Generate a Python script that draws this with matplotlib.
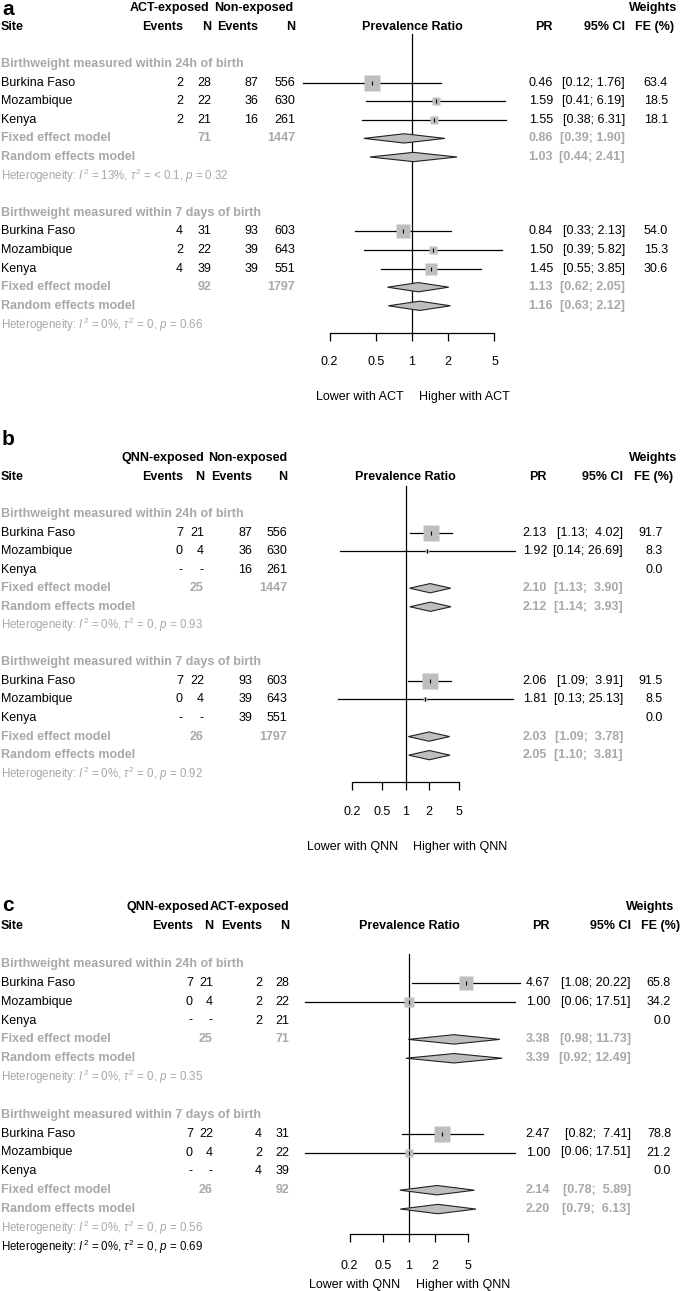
import matplotlib
matplotlib.use('Agg')
import matplotlib.pyplot as plt
from matplotlib.patches import Polygon
from matplotlib.ticker import NullLocator

plt.rcParams['font.family'] = ['Liberation Sans', 'DejaVu Sans']
plt.rcParams['mathtext.fontset'] = 'custom'
plt.rcParams['mathtext.rm'] = 'Liberation Sans'
plt.rcParams['mathtext.it'] = 'Liberation Sans:italic'
plt.rcParams['mathtext.bf'] = 'Liberation Sans:bold'

W, H = 685, 1291
GREY = '#a8a8a8'
FILL = '#bebebe'
FS = 9

sites = ['Burkina Faso', 'Mozambique', 'Kenya']
subgroups = ['Birthweight measured within 24h of birth',
             'Birthweight measured within 7 days of birth']
ticks = [0.2, 0.5, 1, 2, 5]
tick_labels = ['0.2', '0.5', '1', '2', '5']

# ---- panel a : ACT vs non-exposed
a_arms = ['ACT-exposed', 'Non-exposed']
a_ev1 = [[2, 2, 2], [4, 2, 4]]
a_n1 = [[28, 22, 21], [31, 22, 39]]
a_ev2 = [[87, 36, 16], [93, 39, 39]]
a_n2 = [[556, 630, 261], [603, 643, 551]]
a_pr = [[0.46, 1.59, 1.55], [0.84, 1.50, 1.45]]
a_lo = [[0.12, 0.41, 0.38], [0.33, 0.39, 0.55]]
a_hi = [[1.76, 6.19, 6.31], [2.13, 5.82, 3.85]]
a_w = [[63.4, 18.5, 18.1], [54.0, 15.3, 30.6]]
a_fixed = [(0.86, 0.39, 1.90), (1.13, 0.62, 2.05)]
a_random = [(1.03, 0.44, 2.41), (1.16, 0.63, 2.12)]
a_tot = [(71, 1447), (92, 1797)]
a_het = [('13%', '< 0.1', '0.32'), ('0%', '0', '0.66')]
a_dir = ['Lower with ACT', 'Higher with ACT']

# ---- panel b : QNN vs non-exposed
b_arms = ['QNN-exposed', 'Non-exposed']
b_ev1 = [[7, 0, None], [7, 0, None]]
b_n1 = [[21, 4, None], [22, 4, None]]
b_ev2 = [[87, 36, 16], [93, 39, 39]]
b_n2 = [[556, 630, 261], [603, 643, 551]]
b_pr = [[2.13, 1.92, None], [2.06, 1.81, None]]
b_lo = [[1.13, 0.14, None], [1.09, 0.13, None]]
b_hi = [[4.02, 26.69, None], [3.91, 25.13, None]]
b_w = [[91.7, 8.3, 0.0], [91.5, 8.5, 0.0]]
b_fixed = [(2.10, 1.13, 3.90), (2.03, 1.09, 3.78)]
b_random = [(2.12, 1.14, 3.93), (2.05, 1.10, 3.81)]
b_tot = [(25, 1447), (26, 1797)]
b_het = [('0%', '0', '0.93'), ('0%', '0', '0.92')]
b_dir = ['Lower with QNN', 'Higher with QNN']

# ---- panel c : QNN vs ACT
c_arms = ['QNN-exposed', 'ACT-exposed']
c_ev1 = [[7, 0, None], [7, 0, None]]
c_n1 = [[21, 4, None], [22, 4, None]]
c_ev2 = [[2, 2, 2], [4, 2, 4]]
c_n2 = [[28, 22, 21], [31, 22, 39]]
c_pr = [[4.67, 1.00, None], [2.47, 1.00, None]]
c_lo = [[1.08, 0.06, None], [0.82, 0.06, None]]
c_hi = [[20.22, 17.51, None], [7.41, 17.51, None]]
c_w = [[65.8, 34.2, 0.0], [78.8, 21.2, 0.0]]
c_fixed = [(3.38, 0.98, 11.73), (2.14, 0.78, 5.89)]
c_random = [(3.39, 0.92, 12.49), (2.20, 0.79, 6.13)]
c_tot = [(25, 71), (26, 92)]
c_het = [('0%', '0', '0.35'), ('0%', '0', '0.56')]
c_het_all = ('0%', '0', '0.69')
c_dir = ['Lower with QNN', 'Higher with QNN']

panels = [
    dict(letter='a', arms=a_arms, ev1=a_ev1, n1=a_n1, ev2=a_ev2, n2=a_n2, pr=a_pr, lo=a_lo, hi=a_hi,
         w=a_w, fixed=a_fixed, random=a_random, tot=a_tot, het=a_het, het_all=None, dirs=a_dir,
         band=(0, 420), top=64, rh=18.6, axis_px=333, letter_row=-2.95, null_px=412, ppd=118, vtop=-1.6,
         cols=dict(ev1=183, n1=211, ev2=258, n2=295, pr=553, ci=625, w=668, fe=674, wh=677, g1=170, g2=254),
         dir_px=(360, 464), dir_off=64, tick_off=28),
    dict(letter='b', arms=b_arms, ev1=b_ev1, n1=b_n1, ev2=b_ev2, n2=b_n2, pr=b_pr, lo=b_lo, hi=b_hi,
         w=b_w, fixed=b_fixed, random=b_random, tot=b_tot, het=b_het, het_all=None, dirs=b_dir,
         band=(420, 870), top=514, rh=18.55, axis_px=782, letter_row=-4.0, null_px=405.5, ppd=76.5, vtop=-1.5,
         cols=dict(ev1=183, n1=204, ev2=252, n2=287, pr=547, ci=623, w=663, fe=673, wh=677, g1=163, g2=248),
         dir_px=(353, 460), dir_off=65, tick_off=29),
    dict(letter='c', arms=c_arms, ev1=c_ev1, n1=c_n1, ev2=c_ev2, n2=c_n2, pr=c_pr, lo=c_lo, hi=c_hi,
         w=c_w, fixed=c_fixed, random=c_random, tot=c_tot, het=c_het, het_all=c_het_all, dirs=c_dir,
         band=(870, 1291), top=964, rh=18.85, axis_px=1234, letter_row=-3.1, null_px=409, ppd=85, vtop=-0.55,
         cols=dict(ev1=193, n1=213, ev2=262, n2=289, pr=550, ci=631, w=671, fe=680, wh=674, g1=168, g2=250),
         dir_px=(355, 463), dir_off=51, tick_off=30),
]

fig = plt.figure(figsize=(W / 100, H / 100), dpi=100)


def px_axes(x0, x1, y0, y1):
    return fig.add_axes([x0 / W, 1 - y1 / H, (x1 - x0) / W, (y1 - y0) / H])


def het_text(h):
    return r'Heterogeneity: $\mathit{I}^2$ = %s, $\tau^2$ = %s, $\mathit{p}$ = %s' % h


def ci_text(lo, hi, width):
    return '[%.2f; %s]' % (lo, ('%.2f' % hi).rjust(width))


for P in panels:
    y0, y1 = P['band']
    rh = P['rh']
    ylim = ((y1 - P['top']) / rh, (y0 - P['top']) / rh)
    axis_row = (P['axis_px'] - P['top']) / rh
    c = P['cols']

    t = px_axes(0, W, y0, y1)
    t.set_xlim(0, W)
    t.set_ylim(*ylim)
    t.axis('off')

    fx0, fx1 = 285, 535
    f = px_axes(fx0, fx1, y0, y1)
    f.set_xscale('log')
    f.set_xlim(10 ** ((fx0 - P['null_px']) / P['ppd']), 10 ** ((fx1 - P['null_px']) / P['ppd']))
    f.set_ylim(*ylim)
    f.patch.set_visible(False)
    for s in ['left', 'top', 'right']:
        f.spines[s].set_visible(False)
    f.spines['bottom'].set_position(('data', axis_row))
    f.spines['bottom'].set_bounds(ticks[0], ticks[-1])
    f.spines['bottom'].set_linewidth(0.9)
    f.set_xticks(ticks)
    f.set_xticklabels(tick_labels)
    f.xaxis.set_minor_locator(NullLocator())
    f.tick_params(axis='x', direction='out', length=5.5, width=0.9, pad=P['tick_off'] - 17, labelsize=FS)
    f.set_yticks([])

    # header
    t.text(2, P['letter_row'], P['letter'], fontsize=15, fontweight='bold', ha='left', va='center')
    t.text(c['g1'], -3, P['arms'][0], fontsize=FS, fontweight='bold', ha='center', va='center')
    t.text(c['g2'], -3, P['arms'][1], fontsize=FS, fontweight='bold', ha='center', va='center')
    t.text(1, -2, 'Site', fontsize=FS, fontweight='bold', ha='left', va='center')
    for key, lab in [('ev1', 'Events'), ('n1', 'N'), ('ev2', 'Events'), ('n2', 'N'),
                     ('pr', 'PR'), ('ci', '95% CI'), ('fe', 'FE (%)')]:
        t.text(c[key], -2, lab, fontsize=FS, fontweight='bold', ha='right', va='center')
    t.text(c['wh'], -3, 'Weights', fontsize=FS, fontweight='bold', ha='right', va='center')
    t.text(P['null_px'], -2, 'Prevalence Ratio', fontsize=FS, fontweight='bold', ha='center', va='center')

    wmax = max(max(g) for g in P['w'])
    for g in range(2):
        base = g * 8
        t.text(1, base, subgroups[g], fontsize=FS, fontweight='bold', color=GREY, ha='left', va='center')
        his = [h for h in P['hi'][g] if h is not None]
        width = max(len('%.2f' % h) for h in his + [P['fixed'][g][2], P['random'][g][2]])
        for i, site in enumerate(sites):
            r = base + 1 + i
            t.text(1, r, site, fontsize=FS, ha='left', va='center')
            for key, arr in [('ev1', P['ev1']), ('n1', P['n1']), ('ev2', P['ev2']), ('n2', P['n2'])]:
                v = arr[g][i]
                t.text(c[key], r, '-' if v is None else str(v), fontsize=FS, ha='right', va='center')
            t.text(c['w'], r, '%.1f' % P['w'][g][i], fontsize=FS, ha='right', va='center')
            est = P['pr'][g][i]
            if est is None:
                continue
            lo, hi = P['lo'][g][i], P['hi'][g][i]
            t.text(c['pr'], r, '%.2f' % est, fontsize=FS, ha='right', va='center')
            t.text(c['ci'], r, ci_text(lo, hi, width), fontsize=FS, ha='right', va='center')
            f.plot([lo, hi], [r, r], color='black', lw=0.9, clip_on=False, zorder=2)
            side = 16 * (P['w'][g][i] / wmax) ** 0.5
            f.plot([est], [r], marker='s', ms=side * 0.72, mfc=FILL, mec='none', ls='none',
                   clip_on=False, zorder=3)
            f.plot([est], [r], marker='|', ms=3, mew=0.8, color='black', ls='none', clip_on=False, zorder=4)

        for k, (name, summ) in enumerate([('Fixed effect model', P['fixed'][g]),
                                          ('Random effects model', P['random'][g])]):
            r = base + 4 + k
            t.text(1, r, name, fontsize=FS, fontweight='bold', color=GREY, ha='left', va='center')
            est, lo, hi = summ
            t.text(c['pr'], r, '%.2f' % est, fontsize=FS, fontweight='bold', color=GREY, ha='right', va='center')
            t.text(c['ci'], r, ci_text(lo, hi, width), fontsize=FS, fontweight='bold', color=GREY,
                   ha='right', va='center')
            hh = 0.25
            f.add_patch(Polygon([(lo, r), (est, r - hh), (hi, r), (est, r + hh)], closed=True,
                                facecolor=FILL, edgecolor='#222222', lw=0.8, clip_on=False, zorder=3))
        t.text(c['n1'], base + 4, str(P['tot'][g][0]), fontsize=FS, fontweight='bold', color=GREY,
               ha='right', va='center')
        t.text(c['n2'], base + 4, str(P['tot'][g][1]), fontsize=FS, fontweight='bold', color=GREY,
               ha='right', va='center')
        t.text(1, base + 6, het_text(P['het'][g]), fontsize=8.3, color=GREY, ha='left', va='center')

    if P['het_all'] is not None:
        t.text(1, 15, het_text(P['het_all']), fontsize=8.3, color='black', ha='left', va='center')

    # null line
    f.plot([1, 1], [P['vtop'], axis_row], color='black', lw=0.9, clip_on=False, zorder=1)

    drow = axis_row + P['dir_off'] / rh
    t.text(P['dir_px'][0], drow, P['dirs'][0], fontsize=FS, ha='center', va='center')
    t.text(P['dir_px'][1], drow, P['dirs'][1], fontsize=FS, ha='center', va='center')

fig.savefig('out.png', dpi=100)
